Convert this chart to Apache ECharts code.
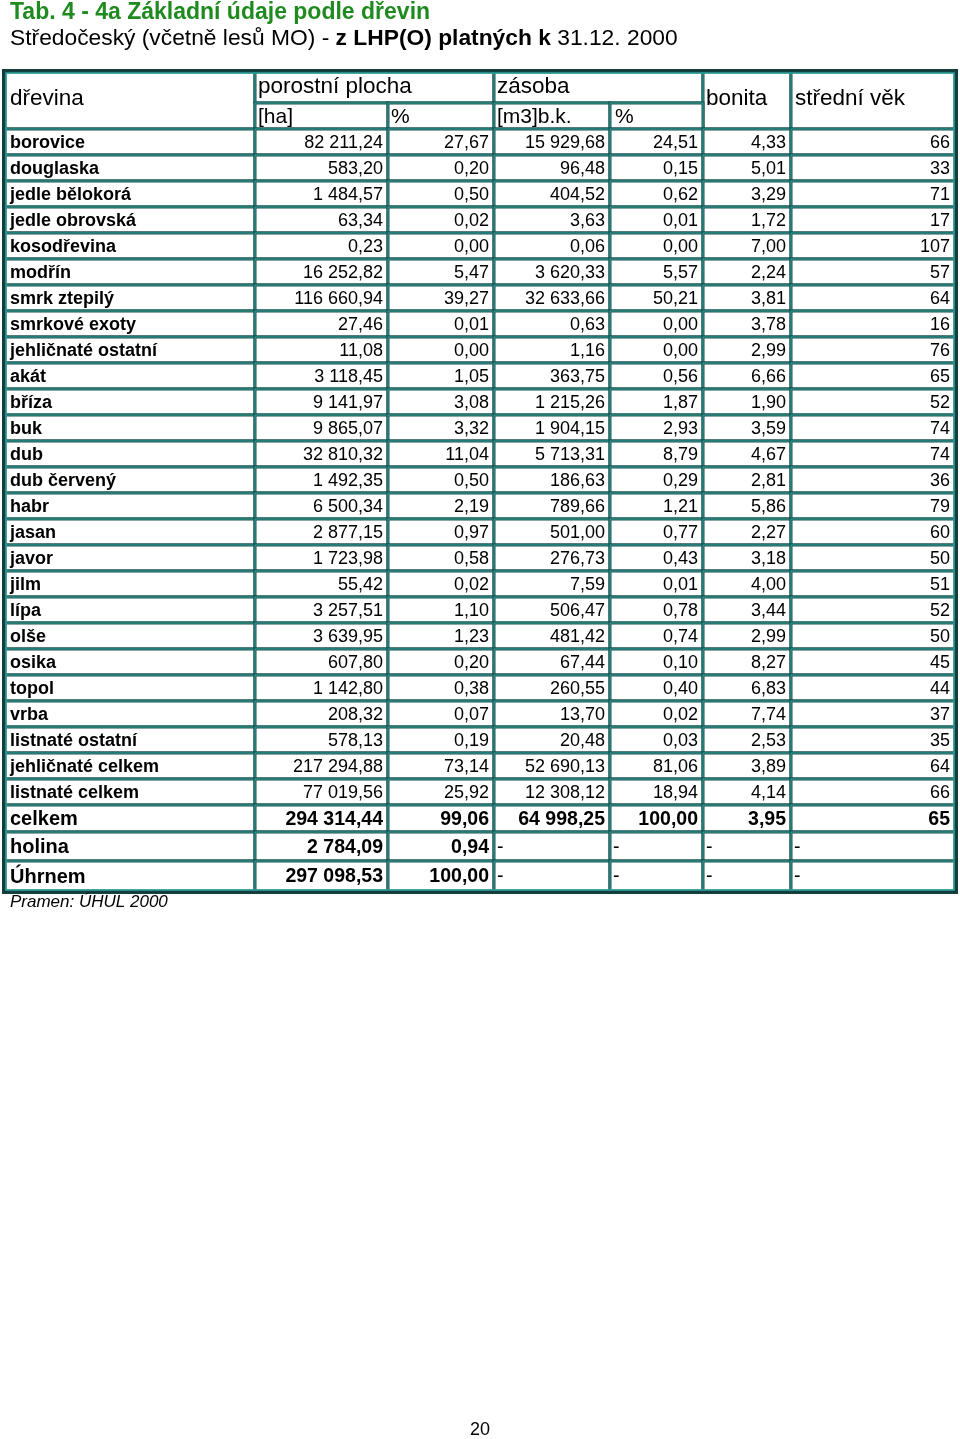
<!DOCTYPE html>
<html><head><meta charset="utf-8">
<script src="https://cdn.jsdelivr.net/npm/echarts@6/dist/echarts.min.js"></script>
<style>html,body{margin:0;padding:0;background:#fff}#c{width:960px;height:1439px}</style>
</head><body><div id="c"></div>
<script>
// ---- texts ----
const titleMain = 'Tab. 4 - 4a Základní údaje podle dřevin';
const subtitleParts = ['Středočeský (včetně lesů MO) - ', 'z LHP(O) platných k', ' 31.12. 2000'];
const sourceNote = 'Pramen: ÚHUL 2000';
const pageNumber = '20';
const headerTop = ['dřevina', 'porostní plocha', 'zásoba', 'bonita', 'střední věk'];
const headerSub = ['[ha]', '%', '[m3]b.k.', '%'];

// ---- data ----
const species = ['borovice','douglaska','jedle bělokorá','jedle obrovská','kosodřevina','modřín','smrk ztepilý','smrkové exoty','jehličnaté ostatní','akát','bříza','buk','dub','dub červený','habr','jasan','javor','jilm','lípa','olše','osika','topol','vrba','listnaté ostatní','jehličnaté celkem','listnaté celkem','celkem','holina','Úhrnem'];
const areaHa = [82211.24,583.20,1484.57,63.34,0.23,16252.82,116660.94,27.46,11.08,3118.45,9141.97,9865.07,32810.32,1492.35,6500.34,2877.15,1723.98,55.42,3257.51,3639.95,607.80,1142.80,208.32,578.13,217294.88,77019.56,294314.44,2784.09,297098.53];
const areaPct = [27.67,0.20,0.50,0.02,0.00,5.47,39.27,0.01,0.00,1.05,3.08,3.32,11.04,0.50,2.19,0.97,0.58,0.02,1.10,1.23,0.20,0.38,0.07,0.19,73.14,25.92,99.06,0.94,100.00];
const stockM3 = [15929.68,96.48,404.52,3.63,0.06,3620.33,32633.66,0.63,1.16,363.75,1215.26,1904.15,5713.31,186.63,789.66,501.00,276.73,7.59,506.47,481.42,67.44,260.55,13.70,20.48,52690.13,12308.12,64998.25,null,null];
const stockPct = [24.51,0.15,0.62,0.01,0.00,5.57,50.21,0.00,0.00,0.56,1.87,2.93,8.79,0.29,1.21,0.77,0.43,0.01,0.78,0.74,0.10,0.40,0.02,0.03,81.06,18.94,100.00,null,null];
const bonita = [4.33,5.01,3.29,1.72,7.00,2.24,3.81,3.78,2.99,6.66,1.90,3.59,4.67,2.81,5.86,2.27,3.18,4.00,3.44,2.99,8.27,6.83,7.74,2.53,3.89,4.14,3.95,null,null];
const meanAge = [66,33,71,17,107,57,64,16,76,65,52,74,74,36,79,60,50,51,52,50,45,44,37,35,64,66,65,null,null];

// ---- layout (table structure) ----
const FONT = "'Liberation Sans', Arial, sans-serif";
const colEdges = [0, 250, 383, 489, 605, 698, 786, 950];
const rowHeights = [31, 26].concat(new Array(26).fill(26), [27, 29, 30]);
const rowEdges = [0];
rowHeights.forEach(h => rowEdges.push(rowEdges[rowEdges.length - 1] + h));
const tableH = rowEdges[rowEdges.length - 1];
const BIG_FROM = 26; // index of 'celkem'

function fmt2(v) {
  const s = v.toFixed(2).split('.');
  const i = s[0].replace(/\B(?=(\d{3})+(?!\d))/g, ' ');
  return i + ',' + s[1];
}

const cells = [];
function add(c0, c1, r0, r1, text, opt) {
  cells.push(Object.assign({ value: [c0, c1, r0, r1], text: text, align: 'left', size: 18, weight: 'normal', pad: 4 }, opt || {}));
}
// header
add(0, 1, 0, 2, headerTop[0], { size: 22.5, pad: 5, dy: -3 });
add(1, 3, 0, 1, headerTop[1], { size: 22.5, pad: 3, dy: -2 });
add(3, 5, 0, 1, headerTop[2], { size: 22.5, pad: 3, dy: -2 });
add(5, 6, 0, 2, headerTop[3], { size: 22.5, pad: 3, dy: -3 });
add(6, 7, 0, 2, headerTop[4], { size: 22.5, pad: 4, dy: -3 });
add(1, 2, 1, 2, headerSub[0], { size: 21, pad: 3 });
add(2, 3, 1, 2, headerSub[1], { size: 21, pad: 3 });
add(3, 4, 1, 2, headerSub[2], { size: 21, pad: 3 });
add(4, 5, 1, 2, headerSub[3], { size: 21, pad: 5 });
// body
species.forEach((name, i) => {
  const r = i + 2;
  const big = i >= BIG_FROM;
  const size = big ? 19.5 : 18;
  add(0, 1, r, r + 1, name, { size: big ? 20 : 18, weight: 'bold', pad: 5 });
  const vals = [
    areaHa[i] == null ? null : fmt2(areaHa[i]),
    areaPct[i] == null ? null : fmt2(areaPct[i]),
    stockM3[i] == null ? null : fmt2(stockM3[i]),
    stockPct[i] == null ? null : fmt2(stockPct[i]),
    bonita[i] == null ? null : fmt2(bonita[i]),
    meanAge[i] == null ? null : String(meanAge[i])
  ];
  vals.forEach((t, k) => {
    if (t == null) add(k + 1, k + 2, r, r + 1, '-', { size: size, pad: 3 });
    else add(k + 1, k + 2, r, r + 1, t, { size: size, align: 'right', weight: big ? 'bold' : 'normal', pad: 5 });
  });
});
const frameData = [{ value: [0, 7, 0, rowEdges.length - 1] }];

function cellBox(api) {
  const p0 = api.coord([colEdges[api.value(0)], rowEdges[api.value(2)]]);
  const p1 = api.coord([colEdges[api.value(1)], rowEdges[api.value(3)]]);
  return { x: p0[0], y: p0[1], w: p1[0] - p0[0], h: p1[1] - p0[1] };
}

const chart = echarts.init(document.getElementById('c'), null, { renderer: 'canvas' });
chart.setOption({
  backgroundColor: '#ffffff',
  animation: false,
  title: [
    { text: titleMain, left: 10, top: 1, padding: 0, textStyle: { color: '#1f8a1f', fontSize: 23, fontWeight: 'bold', fontFamily: FONT } },
    { text: '{r|' + subtitleParts[0] + '}{b|' + subtitleParts[1] + '}{r|' + subtitleParts[2] + '}', left: 10, top: 27, padding: 0,
      textStyle: { fontWeight: 'normal', rich: {
        r: { fontSize: 22.8, color: '#000', fontWeight: 'normal', fontFamily: FONT },
        b: { fontSize: 22.8, color: '#000', fontWeight: 'bold', fontFamily: FONT } } } },
    { text: sourceNote, left: 10, top: 894, padding: 0, textStyle: { fontSize: 17, fontStyle: 'italic', fontWeight: 'normal', color: '#000', fontFamily: FONT } },
    { text: pageNumber, left: 470, top: 1421, padding: 0, textStyle: { fontSize: 18, fontWeight: 'normal', color: '#000', fontFamily: FONT } }
  ],
  grid: { left: 5, top: 72, width: 950, height: tableH },
  xAxis: { type: 'value', min: 0, max: colEdges[colEdges.length - 1], show: false },
  yAxis: { type: 'value', min: 0, max: tableH, inverse: true, show: false },
  series: [
    {
      type: 'custom', coordinateSystem: 'cartesian2d', data: cells, silent: true,
      renderItem: function (params, api) {
        const b = cellBox(api);
        const c = cells[params.dataIndex];
        return {
          type: 'group',
          children: [
            { type: 'rect', shape: { x: b.x, y: b.y, width: b.w, height: b.h }, style: { fill: '#fff', stroke: '#17524f', lineWidth: 3 } },
            { type: 'rect', shape: { x: b.x, y: b.y, width: b.w, height: b.h }, style: { fill: null, stroke: '#36a39c', lineWidth: 1 } },
            { type: 'text', style: {
                text: c.text,
                x: c.align === 'right' ? b.x + b.w - c.pad : b.x + c.pad,
                y: b.y + b.h / 2 + 1 + (c.dy || 0),
                align: c.align, verticalAlign: 'middle',
                fontSize: c.size, fontWeight: c.weight, fontFamily: FONT, fill: '#000' } }
          ]
        };
      }
    },
    {
      type: 'custom', coordinateSystem: 'cartesian2d', data: frameData, silent: true,
      renderItem: function (params, api) {
        const b = cellBox(api);
        return {
          type: 'group',
          children: [
            { type: 'rect', shape: { x: b.x - 1, y: b.y - 1, width: b.w + 2, height: b.h + 2 }, style: { fill: null, stroke: '#123f3d', lineWidth: 4 } },
            { type: 'rect', shape: { x: b.x + 1, y: b.y + 1, width: b.w - 2, height: b.h - 2 }, style: { fill: null, stroke: '#2fa69e', lineWidth: 1.5 } }
          ]
        };
      }
    }
  ]
});
</script>
</body></html>
